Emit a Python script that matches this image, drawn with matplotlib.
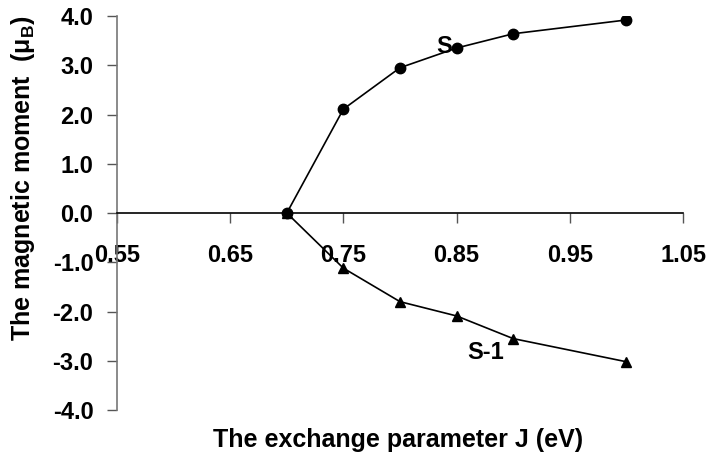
import matplotlib
matplotlib.use('Agg')
import matplotlib.pyplot as plt

# exchange parameter J (eV) and moments for the two branches
j_values = [0.70, 0.75, 0.80, 0.85, 0.90, 1.00]
s_moment = [0.0, 2.11, 2.95, 3.35, 3.64, 3.92]
s1_moment = [0.0, -1.12, -1.80, -2.09, -2.55, -3.02]

x_ticks = [0.55, 0.65, 0.75, 0.85, 0.95, 1.05]
y_ticks = [-4.0, -3.0, -2.0, -1.0, 0.0, 1.0, 2.0, 3.0, 4.0]

plt.rcParams['font.family'] = ['Liberation Sans', 'DejaVu Sans']
plt.rcParams['font.weight'] = 'bold'
plt.rcParams['mathtext.fontset'] = 'custom'
plt.rcParams['mathtext.bf'] = 'Liberation Sans:bold'
plt.rcParams['mathtext.rm'] = 'Liberation Sans:bold'

fig = plt.figure(figsize=(7.1, 4.67), dpi=100)
ax = fig.add_axes([0.1648, 0.122, 0.7972, 0.8437])

# axis lines: y at left edge, x through zero (set before ticks, it resets them)
ax.spines['top'].set_visible(False)
ax.spines['right'].set_visible(False)
ax.spines['bottom'].set_position(('data', 0))
ax.spines['left'].set_color('#777777')
ax.spines['left'].set_linewidth(1.2)
ax.spines['bottom'].set_linewidth(1.2)

ax.plot(j_values, s_moment, color='black', lw=1.2, marker='o', ms=7.5)
ax.plot(j_values, s1_moment, color='black', lw=1.2, marker='^', ms=7.5)

ax.set_xlim(0.55, 1.05)
ax.set_ylim(-4.0, 4.0)
ax.set_xticks(x_ticks)
ax.set_yticks(y_ticks)
ax.set_xticklabels([f'{v:.2f}' for v in x_ticks], fontsize=17, fontweight='bold')
ax.set_yticklabels([f'{v:.1f}' for v in y_ticks], fontsize=17, fontweight='bold')
ax.tick_params(axis='x', direction='out', length=7, width=1, color='#555555', pad=15)
ax.tick_params(axis='y', direction='out', length=7, width=1, color='#555555', pad=10)

ax.text(0.846, 3.39, 'S', fontsize=17, fontweight='bold', ha='right', va='center')
ax.text(0.876, -2.83, 'S-1', fontsize=17, fontweight='bold', ha='center', va='center')

fig.text(23 / 710, 1 - 178 / 467, r'The magnetic moment  ($\mathbf{\mu_B}$)',
         fontsize=18, fontweight='bold', rotation=90, ha='center', va='center')
fig.text(398 / 710, 1 - 440 / 467, 'The exchange parameter J (eV)', fontsize=18,
         fontweight='bold', ha='center', va='center')

fig.savefig('out.png', dpi=100)
